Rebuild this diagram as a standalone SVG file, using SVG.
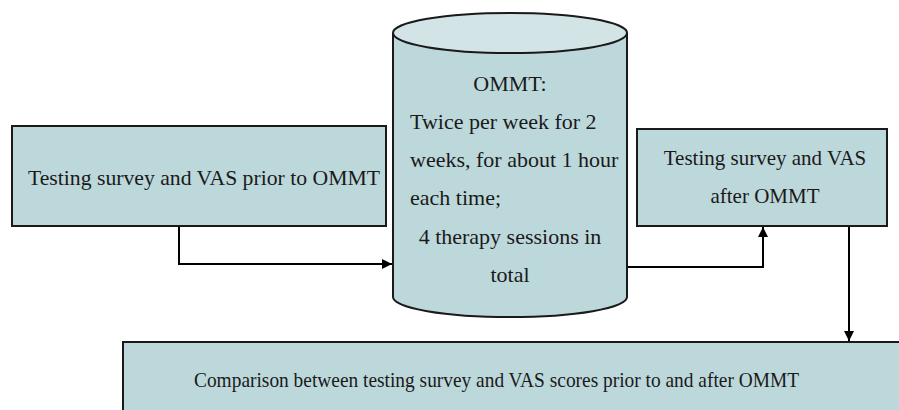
<svg xmlns="http://www.w3.org/2000/svg" width="899" height="410" viewBox="0 0 899 410">
<style>
.box{fill:#bdd8db;stroke:#1a1a1a;stroke-width:2}
.top{fill:#d3e4e6;stroke:#1a1a1a;stroke-width:2}
.t{font-family:'Liberation Serif','Times New Roman',Times,serif;font-size:21px;fill:#1a1a1a}
.c{text-anchor:middle}
.conn{fill:none;stroke:#000;stroke-width:2}
</style>
<defs>
<marker id="arr" viewBox="0 0 10 10" refX="10" refY="5" markerWidth="10" markerHeight="10" markerUnits="userSpaceOnUse" orient="auto">
<path d="M0,0 L10,5 L0,10 Z" fill="#000"/>
</marker>
</defs>
<rect width="899" height="410" fill="#fff"/>
<g id="connectors">
<path class="conn" d="M179,226 V264 H392" marker-end="url(#arr)"/>
<path class="conn" d="M627,267 H763 V227" marker-end="url(#arr)"/>
<path class="conn" d="M849,226 V341" marker-end="url(#arr)"/>
</g>
<g id="n-prior">
<rect class="box" x="12" y="126" width="374" height="100"/>
<text class="t" x="28" y="185" font-family="Liberation Serif, serif" textLength="352" lengthAdjust="spacingAndGlyphs">Testing survey and VAS prior to OMMT</text>
</g>
<g id="n-ommt">
<path class="box" d="M393,33 V297 A117,20 0 0 0 627,297 V33"/>
<ellipse class="top" cx="510" cy="33" rx="117" ry="20"/>
<text class="t c" x="510" y="91" style="font-size:22px">OMMT:</text>
<text class="t" x="410" y="129" style="font-size:22px">Twice per week for 2</text>
<text class="t" x="410" y="167" style="font-size:22px">weeks, for about 1 hour</text>
<text class="t" x="410" y="205" style="font-size:22px">each time;</text>
<text class="t c" x="510" y="244" style="font-size:22px">4 therapy sessions in</text>
<text class="t c" x="510" y="282" style="font-size:22px">total</text>
</g>
<g id="n-after">
<rect class="box" x="637" y="129" width="250" height="97"/>
<text class="t c" x="765" y="165">Testing survey and VAS</text>
<text class="t c" x="765" y="203">after OMMT</text>
</g>
<g id="n-compare">
<rect class="box" x="123" y="342" width="790" height="90"/>
<text class="t" x="194" y="387" textLength="605" lengthAdjust="spacingAndGlyphs">Comparison between testing survey and VAS scores prior to and after OMMT</text>
</g>
</svg>
